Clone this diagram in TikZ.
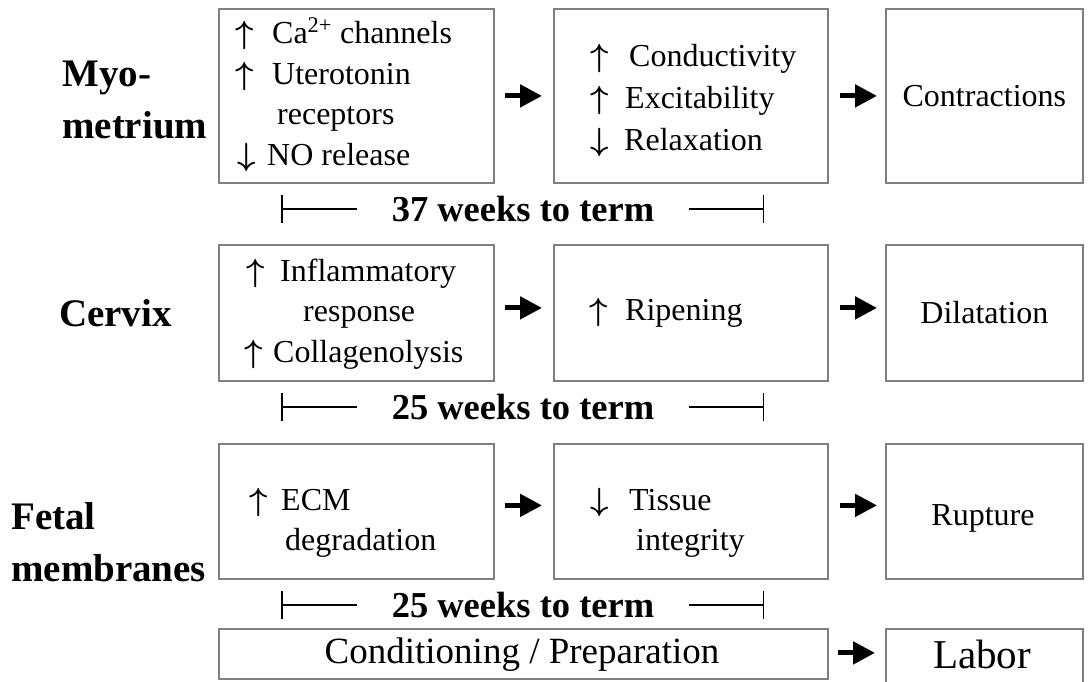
\RequirePackage{fix-cm}
\documentclass[tikz,border=0pt]{standalone}
\usepackage{amsmath}
\usepackage{fontspec}
\setmainfont{Liberation Serif}
\usetikzlibrary{arrows.meta}
\definecolor{boxgray}{RGB}{128,128,128}
\newcommand{\upar}{$\boldsymbol{\uparrow}$}
\newcommand{\dnar}{$\boldsymbol{\downarrow}$}
\begin{document}
\begin{tikzpicture}[x=1pt,y=-1pt,
  box/.style={draw=boxgray, line width=1.8pt, anchor=north west, inner sep=0pt,
    font=\fontsize{32}{40}\selectfont},
  body/.style={anchor=west, inner sep=0pt, align=left,
    font=\fontsize{32}{40.5}\selectfont},
  rowlabel/.style={inner sep=0pt, align=left, anchor=west,
    font=\fontsize{39}{52}\selectfont\bfseries},
  spantext/.style={inner sep=0pt, font=\fontsize{36.5}{40}\selectfont\bfseries},
  spanline/.style={line width=1.5pt},
  flow/.style={line width=5pt, -{Triangle[length=22pt,width=22pt]}},
]
\useasboundingbox (0,0) rectangle (1088,681);

% ---------- boxes ----------
\node[box, minimum width=275pt, minimum height=174pt] (m1) at (218,8) {};
\node[box, minimum width=274pt, minimum height=174pt] (m2) at (553,8) {};
\node[box, minimum width=197pt, minimum height=174pt] (m3) at (885,8) {Contractions};
\node[box, minimum width=275pt, minimum height=136pt] (c1) at (218,244) {};
\node[box, minimum width=274pt, minimum height=136pt] (c2) at (553,244) {};
\node[box, minimum width=197pt, minimum height=136pt] (c3) at (885,244) {Dilatation};
\node[box, minimum width=275pt, minimum height=135pt] (f1) at (218,443) {};
\node[box, minimum width=274pt, minimum height=135pt] (f2) at (553,443) {};
\node[box, minimum width=197pt, minimum height=135pt] (f3) at (885,443) {};
\node[box, minimum width=609pt, minimum height=50pt] (prep) at (218,628) {};
\node[box, minimum width=197pt, minimum height=62pt] (labor) at (885,628) {};

% ---------- box texts ----------
\node[body] (m1t) at (235,94.5) {\makebox[37pt][l]{\upar}Ca\textsuperscript{2+} channels\\
  \makebox[37pt][l]{\upar}Uterotonin\\
  \hspace*{42pt}receptors\\
  \hspace*{2pt}\makebox[30pt][l]{\dnar}NO release};
\node[body, font=\fontsize{32}{42}\selectfont] (m2t) at (590,100) {\makebox[39pt][l]{\upar}Conductivity\\
  \makebox[35pt][l]{\upar}Excitability\\
  \makebox[34pt][l]{\dnar}Relaxation};
\node[body] (c1t) at (244,314) {\hspace*{2pt}\makebox[34pt][l]{\upar}Inflammatory\\
  \hspace*{59pt}response\\
  \makebox[29pt][l]{\upar}Collagenolysis};
\node[body] (c2t) at (589,312.5) {\makebox[36pt][l]{\upar}Ripening};
\node[body, font=\fontsize{32}{40}\selectfont] (f1t) at (249,523) {\makebox[32pt][l]{\upar}ECM\\
  \hspace*{36pt}degradation};
\node[body, font=\fontsize{32}{40}\selectfont] (f2t) at (590,523) {\makebox[39pt][l]{\dnar}Tissue\\
  \hspace*{46pt}integrity};
\node[inner sep=0pt, font=\fontsize{32}{40}\selectfont] (f3t) at (983,518) {Rupture};
\node[inner sep=0pt, anchor=base, font=\fontsize{37}{40}\selectfont] (prept) at (522,663) {Conditioning / Preparation};
\node[inner sep=0pt, anchor=base, font=\fontsize{41}{44}\selectfont] (labort) at (982,668) {Labor};

% ---------- row labels ----------
\node[rowlabel] (lmyo) at (62,100) {Myo-\\metrium};
\node[rowlabel, anchor=base west] (lcer) at (59,326) {Cervix};
\node[rowlabel] (lfet) at (11,542) {Fetal\\membranes};

% ---------- flow arrows ----------
\draw[flow, shorten <=10pt, shorten >=11pt] (m1.east) -- (m2.west);
\draw[flow, shorten <=11pt, shorten >=8pt] (m2.east) -- (m3.west);
\draw[flow, shorten <=10pt, shorten >=11pt] ([yshift=5pt]c1.east) -- ([yshift=5pt]c2.west);
\draw[flow, shorten <=11pt, shorten >=8pt] ([yshift=5pt]c2.east) -- ([yshift=5pt]c3.west);
\draw[flow, shorten <=10pt, shorten >=11pt] ([yshift=6pt]f1.east) -- ([yshift=6pt]f2.west);
\draw[flow, shorten <=11pt, shorten >=8pt] ([yshift=6pt]f2.east) -- ([yshift=6pt]f3.west);
\draw[flow, shorten <=9pt, shorten >=10pt] ([yshift=1pt]prep.east) -- ([yshift=1pt]prep.east -| labor.west);

% ---------- time spans ----------
\foreach \n/\y/\t in {s1/209/37, s2/407/25, s3/605/25}{
  \coordinate (\n a) at (281,\y);
  \coordinate (\n b) at (357,\y);
  \node[spantext] (\n t) at (523,\y) {\t\ weeks to term};
  \coordinate (\n c) at (689,\y);
  \coordinate (\n d) at (764,\y);
  \draw[spanline, {Bar[width=28pt]}-] (\n a) -- (\n b);
  \draw[spanline, -{Bar[width=28pt]}] (\n c) -- (\n d);
}
\end{tikzpicture}
\end{document}
